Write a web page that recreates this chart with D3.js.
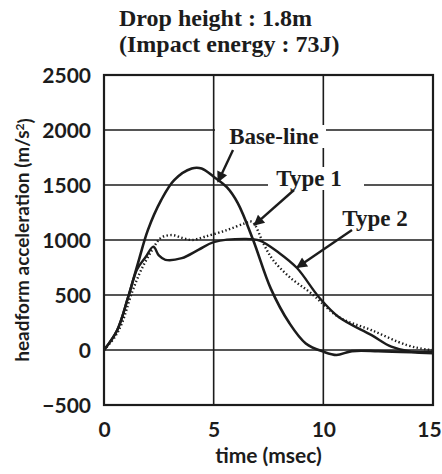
<!DOCTYPE html>
<html>
<head>
<meta charset="utf-8">
<script src="https://cdn.jsdelivr.net/npm/d3@7"></script>
<style>
  body { margin: 0; background: #fff; }
  svg { display: block; }
</style>
</head>
<body>
<div id="chart"></div>
<script>
// headform acceleration traces, time in msec, acceleration in m/s^2
var baseTime = [0, 0.6, 1.1, 1.55, 2.0, 2.6, 3.2, 4.0, 4.45, 5.0, 5.6, 6.1, 6.8, 7.6, 8.45, 9.2, 10.0, 10.6, 11.3, 12.5, 14.0, 15.0];
var baseAcc  = [0, 180, 480, 790, 1090, 1360, 1545, 1650, 1650, 1575, 1480, 1335, 1000, 560, 245, 60, -15, -45, -10, -10, -20, -30];

var type1Time = [0, 0.5, 0.82, 1.27, 1.7, 2.2, 2.6, 3.1, 3.55, 4.0, 4.6, 5.6, 6.4, 6.75, 7.3, 7.7, 8.45, 9.45, 10.7, 12.2, 13.8, 14.7, 15.0];
var type1Acc  = [0, 120, 245, 520, 730, 910, 1020, 1045, 1020, 1000, 1030, 1090, 1150, 1165, 955, 820, 665, 515, 300, 180, 45, 5, 0];

var type2Time = [0, 0.6, 1.1, 1.5, 1.9, 2.25, 2.5, 2.8, 3.55, 4.3, 5.0, 6.4, 7.1, 8.0, 8.8, 9.8, 10.7, 12.2, 13.1, 14.0, 15.0];
var type2Acc  = [0, 180, 480, 730, 845, 940, 860, 820, 835, 910, 980, 1010, 995, 880, 745, 480, 300, 135, 30, -15, -15];

var xTicks = [0, 5, 10, 15];
var yTicks = [-500, 0, 500, 1000, 1500, 2000, 2500];

var titleLines = ["Drop height : 1.8m", "(Impact energy : 73J)"];

function init()
{
  var W = 442, H = 474;
  var margin = {top: 75, right: 9, bottom: 69, left: 104};
  var width = W - margin.left - margin.right;
  var height = H - margin.top - margin.bottom;

  var root = d3.select("#chart")
    .append("svg")
    .attr("width", W)
    .attr("height", H);

  var svg = root.append("g")
    .attr("transform", "translate(" + margin.left + "," + margin.top + ")");

  var xScale = d3.scaleLinear().domain([0, 15]).range([0, width]);
  var yScale = d3.scaleLinear().domain([-500, 2500]).range([height, 0]);

  var ink = "#1c1c1c";

  // grid
  svg.selectAll(".hgrid")
    .data(yTicks)
    .enter()
    .append("line")
      .attr("x1", 0)
      .attr("x2", width)
      .attr("y1", function(d) {return yScale(d);})
      .attr("y2", function(d) {return yScale(d);})
      .style("stroke", ink)
      .style("stroke-width", 1.6);

  svg.selectAll(".vgrid")
    .data(xTicks)
    .enter()
    .append("line")
      .attr("x1", function(d) {return xScale(d);})
      .attr("x2", function(d) {return xScale(d);})
      .attr("y1", 0)
      .attr("y2", height)
      .style("stroke", ink)
      .style("stroke-width", 1.6);

  svg.append("rect")
    .attr("width", width)
    .attr("height", height)
    .style("fill", "none")
    .style("stroke", ink)
    .style("stroke-width", 2.2);

  // axes (labels only, grid draws the lines)
  var xAxis = d3.axisBottom(xScale).tickValues(xTicks).tickFormat(d3.format("d")).tickSize(0).tickPadding(17);
  var yAxis = d3.axisLeft(yScale).tickValues(yTicks).tickFormat(d3.format("d")).tickSize(0).tickPadding(13);

  var gx = svg.append("g")
    .attr("transform", "translate(0," + height + ")")
    .call(xAxis);
  var gy = svg.append("g").call(yAxis);

  [gx, gy].forEach(function(g) {
    g.select(".domain").remove();
    g.selectAll("text")
      .style("font-family", "Lato, 'Open Sans', sans-serif")
      .style("font-weight", "bold")
      .style("font-size", "21px")
      .style("fill", ink);
  });
  gy.selectAll("text").attr("dy", "0.36em");
  // keep the last time label inside the page
  gx.selectAll("text").filter(function(d) {return d === 15;}).attr("dx", "-4");

  // curves
  var line = d3.line()
    .x(function(d) {return xScale(d[0]);})
    .y(function(d) {return yScale(d[1]);})
    .curve(d3.curveCatmullRom.alpha(0.5));

  function pairs(t, a) { return t.map(function(v, i) {return [v, a[i]];}); }

  svg.append("path")
    .datum(pairs(type2Time, type2Acc))
    .attr("d", line)
    .style("fill", "none")
    .style("stroke", ink)
    .style("stroke-width", 2.4);

  svg.append("path")
    .datum(pairs(baseTime, baseAcc))
    .attr("d", line)
    .style("fill", "none")
    .style("stroke", ink)
    .style("stroke-width", 2.6);

  svg.append("path")
    .datum(pairs(type1Time, type1Acc))
    .attr("d", line)
    .style("fill", "none")
    .style("stroke", ink)
    .style("stroke-width", 2.4)
    .style("stroke-dasharray", "1.4,2.4")
    .style("stroke-linecap", "butt");

  // curve labels with white boxes that break the grid
  var labels = [
    {text: "Base-line", x: 274, y: 144, bx: 215, bw: 111, tip: [5.2, 1530], from: [233, 150]},
    {text: "Type 1",    x: 309, y: 186, bx: 268, bw: 96,  tip: [6.85, 1135], from: [294, 190]},
    {text: "Type 2",    x: 375, y: 226, bx: 336, bw: 78,  tip: [8.8, 750], from: [352, 230]}
  ];

  root.append("defs").append("marker")
    .attr("id", "head")
    .attr("viewBox", "0 0 10 10")
    .attr("refX", 9)
    .attr("refY", 5)
    .attr("markerWidth", 6.5)
    .attr("markerHeight", 4.5)
    .attr("markerUnits", "strokeWidth")
    .attr("orient", "auto")
    .append("path")
      .attr("d", "M0,0L10,5L0,10Z")
      .style("fill", ink);

  labels.forEach(function(l) {
    root.append("rect")
      .attr("x", l.bx)
      .attr("y", l.y - 19)
      .attr("width", l.bw)
      .attr("height", 23)
      .style("fill", "#fff");
    root.append("text")
      .attr("x", l.x)
      .attr("y", l.y)
      .style("text-anchor", "middle")
      .style("font-family", "'Liberation Serif', 'Times New Roman', serif")
      .style("font-weight", "bold")
      .style("font-size", "23px")
      .style("fill", ink)
      .text(l.text);
    root.append("line")
      .attr("x1", l.from[0])
      .attr("y1", l.from[1])
      .attr("x2", margin.left + xScale(l.tip[0]))
      .attr("y2", margin.top + yScale(l.tip[1]))
      .style("stroke", ink)
      .style("stroke-width", 2.4)
      .attr("marker-end", "url(#head)");
  });

  // titles
  root.selectAll(".title")
    .data(titleLines)
    .enter()
    .append("text")
      .attr("x", 119)
      .attr("y", function(d, i) {return 26 + i * 26;})
      .style("font-family", "'Liberation Serif', 'Times New Roman', serif")
      .style("font-weight", "bold")
      .style("font-size", "24px")
      .style("fill", ink)
      .text(function(d) {return d;});

  root.append("text")
    .attr("x", margin.left + width / 2)
    .attr("y", 463)
    .style("text-anchor", "middle")
    .style("font-family", "Lato, 'Open Sans', sans-serif")
    .style("font-weight", "bold")
    .style("font-size", "21px")
    .style("fill", ink)
    .text("time (msec)");

  var yt = root.append("text")
    .attr("transform", "translate(29,240) rotate(-90)")
    .style("text-anchor", "middle")
    .style("font-family", "Lato, 'Open Sans', sans-serif")
    .style("font-weight", "bold")
    .style("font-size", "19px")
    .style("fill", ink);
  yt.append("tspan").text("headform acceleration (m/s");
  yt.append("tspan").attr("dy", "-0.45em").style("font-size", "12px").text("2");
  yt.append("tspan").attr("dy", "0.45em").text(")");
}

window.onload = init;
</script>
</body>
</html>
